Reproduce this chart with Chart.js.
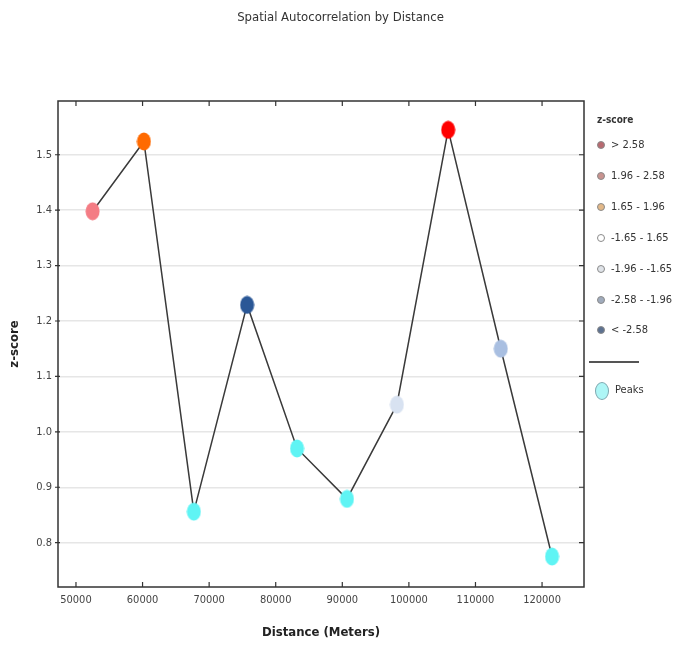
<!DOCTYPE html>
<html><head><meta charset="utf-8">
<script src="https://cdn.jsdelivr.net/npm/chart.js@4/dist/chart.umd.min.js"></script>
<style>
html,body{margin:0;padding:0;background:#fff;}
#wrap{position:relative;width:681px;height:646px;}
canvas{display:block;}
.lg{position:absolute;font-family:'DejaVu Sans Condensed','DejaVu Sans',sans-serif;color:#333;font-size:11px;line-height:12px;white-space:nowrap;}
.dot{position:absolute;width:6px;height:6px;border-radius:50%;border:1px solid #8a8a8a;}
#title{position:absolute;left:0;top:9px;width:681px;text-align:center;font-family:'DejaVu Sans Condensed','DejaVu Sans',sans-serif;font-size:13px;line-height:16px;color:#333;}
</style></head>
<body>
<div id="wrap"><canvas id="c" width="681" height="646"></canvas><div id="title"></div><div id="legend"></div></div>
<script>
// ---- data ----
const chartTitle = 'Spatial Autocorrelation by Distance';
const distances = [52500, 60200, 67700, 75700, 83200, 90700, 98200, 105900, 113800, 121500];
const zScores   = [1.398, 1.524, 0.856, 1.229, 0.970, 0.879, 1.049, 1.545, 1.150, 0.775];
const pointColors = ['#f47c84', '#ff6a00', '#5ff4f4', '#2a5796', '#5ff4f4', '#5ff4f4', '#d8e2f1', '#ff0000', '#a9bfe1', '#5ff4f4'];
const xTickValues = [50000, 60000, 70000, 80000, 90000, 100000, 110000, 120000];
const yTickValues = [0.8, 0.9, 1.0, 1.1, 1.2, 1.3, 1.4, 1.5];
const zLegendLabels = ['> 2.58', '1.96 - 2.58', '1.65 - 1.96', '-1.65 - 1.65', '-1.96 - -1.65', '-2.58 - -1.96', '< -2.58'];
const zLegendColors = ['#b86a70', '#c8938f', '#e2b888', '#ffffff', '#dfe3e8', '#a0abbc', '#5d7190'];

const FONT = "'DejaVu Sans Condensed','DejaVu Sans',sans-serif";

function ellipseImg(color){
  const c = document.createElement('canvas');
  c.width = 15; c.height = 19;
  const g = c.getContext('2d');
  g.fillStyle = color;
  g.beginPath(); g.ellipse(7.5, 9.5, 7, 9, 0, 0, Math.PI*2); g.fill();
  return c;
}

const framePlugin = {
  id: 'frame',
  afterDatasetsDraw(chart){
    const {ctx, chartArea:a, scales:{x, y}} = chart;
    ctx.save();
    ctx.strokeStyle = '#333';
    ctx.lineWidth = 1.5;
    ctx.strokeRect(a.left, a.top, a.right - a.left, a.bottom - a.top);
    ctx.lineWidth = 1.2;
    ctx.beginPath();
    xTickValues.forEach(v => {
      const px = x.getPixelForValue(v);
      ctx.moveTo(px, a.bottom); ctx.lineTo(px, a.bottom - 5);
      ctx.moveTo(px, a.top); ctx.lineTo(px, a.top + 5);
    });
    yTickValues.forEach(v => {
      const py = y.getPixelForValue(v);
      ctx.moveTo(a.left - 3, py); ctx.lineTo(a.left + 2, py);
      ctx.moveTo(a.right, py); ctx.lineTo(a.right - 5, py);
    });
    ctx.stroke();
    ctx.restore();
  }
};

new Chart(document.getElementById('c'), {
  type: 'line',
  data: {
    datasets: [{
      data: distances.map((d, i) => ({x: d, y: zScores[i]})),
      borderColor: '#3a3a3a',
      borderWidth: 1.5,
      pointStyle: pointColors.map(ellipseImg),
      pointRadius: 8,
      tension: 0,
      fill: false
    }]
  },
  options: {
    responsive: false,
    animation: false,
    devicePixelRatio: 1,
    layout: {padding: {left: 0, right: 97, top: 101, bottom: 0}},
    plugins: {
      legend: {display: false},
      tooltip: {enabled: false},
      title: {display: false}
    },
    scales: {
      x: {
        type: 'linear',
        min: 47300, max: 126300,
        afterBuildTicks: s => { s.ticks = xTickValues.map(v => ({value: v})); },
        afterFit: s => { s.height = 59; },
        border: {display: false},
        grid: {display: false, drawTicks: false},
        ticks: {color: '#444', font: {family: FONT, size: 11}, padding: 7, maxRotation: 0, autoSkip: false, callback: v => String(v)},
        title: {display: true, text: 'Distance (Meters)', color: '#222', font: {family: FONT, size: 13, weight: 'bold'}, padding: {top: 0, bottom: 6}}
      },
      y: {
        type: 'linear',
        min: 0.72, max: 1.597,
        afterBuildTicks: s => { s.ticks = yTickValues.map(v => ({value: v})); },
        afterFit: s => { s.width = 58; },
        border: {display: false},
        grid: {color: '#e6e6e6', lineWidth: 1.5, drawTicks: false},
        ticks: {color: '#444', font: {family: FONT, size: 11}, padding: 6, autoSkip: false, callback: v => v.toFixed(1)},
        title: {display: true, text: 'z-score', color: '#222', font: {family: FONT, size: 13, weight: 'bold'}, padding: {top: 7, bottom: 0}}
      }
    }
  },
  plugins: [framePlugin]
});

document.getElementById('title').textContent = chartTitle;

// ---- legend (HTML) ----
const lg = document.getElementById('legend');
let html = `<div class="lg" style="left:597px;top:114px;font-weight:bold;font-size:10px;">z-score</div>`;
const itemY = [145, 176, 207, 238, 269, 300, 330];
zLegendLabels.forEach((t, i) => {
  html += `<div class="dot" style="left:597px;top:${itemY[i]-4}px;background:${zLegendColors[i]};"></div>`;
  html += `<div class="lg" style="left:611px;top:${itemY[i]-6}px;">${t}</div>`;
});
html += `<div style="position:absolute;left:589px;top:361px;width:50px;height:2px;background:#555;"></div>`;
html += `<div style="position:absolute;left:595px;top:382px;width:12px;height:16px;border-radius:50%;background:#aef6f6;border:1px solid #7fa8b0;"></div>`;
html += `<div class="lg" style="left:615px;top:384px;">Peaks</div>`;
lg.innerHTML = html;
</script>
</body></html>
